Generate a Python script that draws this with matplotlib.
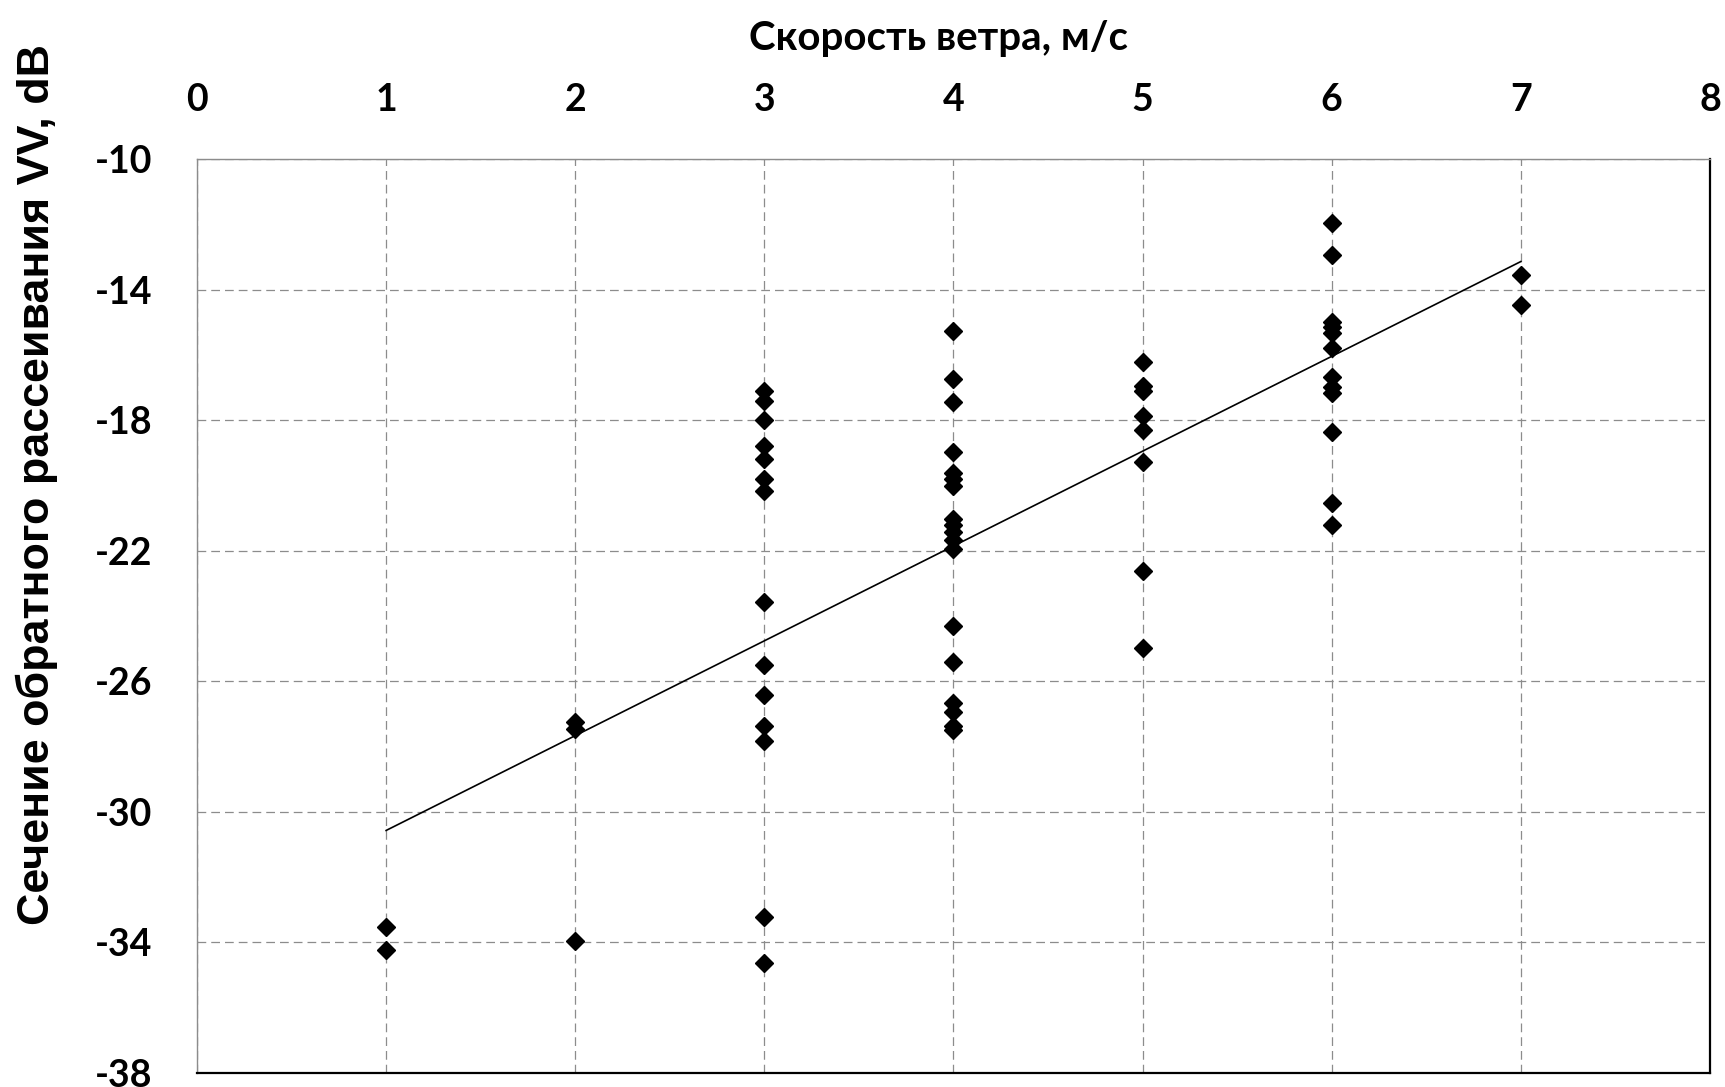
import matplotlib
matplotlib.use("Agg")
import matplotlib.pyplot as plt

# wind speed (m/s) and VV backscatter (dB)
speed_1 = [1, 1]
vv_1 = [-33.52, -34.23]
speed_2 = [2, 2, 2]
vv_2 = [-27.25, -27.45, -33.95]
speed_3 = [3] * 14
vv_3 = [-17.11, -17.41, -18.0, -18.79, -19.18, -19.81, -20.17,
        -23.57, -25.49, -26.41, -27.38, -27.84, -33.22, -34.62]
speed_4 = [4] * 18
vv_4 = [-15.27, -16.73, -17.43, -18.98, -19.61, -19.8, -20.01, -21.02, -21.22,
        -21.43, -21.66, -21.94, -24.3, -25.41, -26.66, -26.95, -27.38, -27.5]
speed_5 = [5] * 8
vv_5 = [-16.21, -16.96, -17.1, -17.88, -18.3, -19.29, -22.63, -24.97]
speed_6 = [6] * 12
vv_6 = [-11.97, -12.95, -15.0, -15.15, -15.32, -15.8, -16.67, -16.98,
        -17.18, -18.36, -20.55, -21.2]
speed_7 = [7, 7]
vv_7 = [-13.55, -14.48]

# linear trend line end points (as drawn in the reference)
trend_x = [1, 7]
trend_y = [-30.57, -13.14]

x_ticks = [0, 1, 2, 3, 4, 5, 6, 7, 8]
y_ticks = [-10, -14, -18, -22, -26, -30, -34, -38]

xs = speed_1 + speed_2 + speed_3 + speed_4 + speed_5 + speed_6 + speed_7
ys = vv_1 + vv_2 + vv_3 + vv_4 + vv_5 + vv_6 + vv_7

TICK_FONT = ["Lato", "Open Sans", "DejaVu Sans"]
plt.rcParams["axes.unicode_minus"] = False

fig = plt.figure(figsize=(17.25, 10.87), dpi=100)
ax = fig.add_axes([0.1142, 0.0129, 0.9913 - 0.1142, 0.8537 - 0.0129])

ax.plot(trend_x, trend_y, color="black", lw=1.2, zorder=3)
ax.plot(xs, ys, ls="none", marker="D", ms=9, color="black", zorder=4)

ax.set_xlim(0, 8)
ax.set_ylim(-38, -10)
ax.set_xticks(x_ticks)
ax.set_yticks(y_ticks)
ax.xaxis.tick_top()
ax.tick_params(axis="both", length=0)
ax.tick_params(axis="x", pad=30)
ax.tick_params(axis="y", pad=32)
for lab in ax.get_xticklabels() + ax.get_yticklabels():
    lab.set_family(TICK_FONT)
    lab.set_fontweight("bold")
    lab.set_fontsize(27)

ax.grid(True, color="#8c8c8c", lw=0.9, ls=(0, (7, 4)))
ax.set_axisbelow(True)

for side in ("top", "left"):
    ax.spines[side].set_color("#8c8c8c")
    ax.spines[side].set_linewidth(1.0)
for side in ("bottom", "right"):
    ax.spines[side].set_color("black")
    ax.spines[side].set_linewidth(1.6)

fig.text(0.544, 0.954, "Скорость ветра, м/с", ha="center", va="baseline",
         fontsize=29, fontweight="bold", family=TICK_FONT)
fig.text(0.0214, 0.554, "Сечение обратного рассеивания VV, dB", rotation=90,
         ha="center", va="center", fontsize=32.3, fontweight="bold",
         family=["Liberation Sans", "DejaVu Sans"])

fig.savefig("out.png", dpi=100, facecolor="white")
